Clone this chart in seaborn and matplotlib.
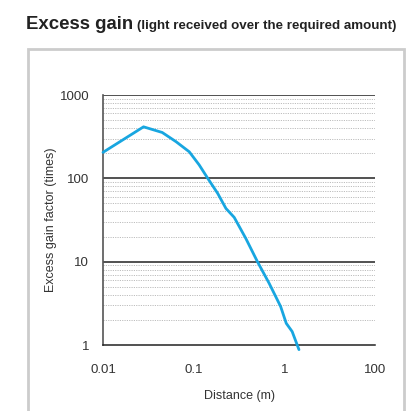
import matplotlib
matplotlib.use("Agg")
import matplotlib.pyplot as plt
import seaborn as sns
import pandas as pd
from matplotlib.patches import Rectangle
from matplotlib.ticker import FixedLocator, NullFormatter

sns.set_style("white")
plt.rcParams['font.family'] = ['Liberation Sans', 'DejaVu Sans']

# Data
distance_m = [0.01, 0.028, 0.045, 0.064, 0.0895, 0.115, 0.143, 0.184, 0.227,
              0.28, 0.376, 0.505, 0.68, 0.91, 1.05, 1.22, 1.45]
excess_gain = [205, 415, 355, 275, 208, 145, 100, 66, 43.5,
               34, 19, 10, 5.5, 2.9, 1.82, 1.45, 0.88]
# the last tick sits one decade after "1" but is labelled "100" in the original
x_tick_values = [0.01, 0.1, 1, 10]
x_tick_labels = ["0.01", "0.1", "1", "100"]
y_tick_values = [1, 10, 100, 1000]
y_tick_labels = ["1", "10", "100", "1000"]

df = pd.DataFrame({"Distance (m)": distance_m, "gain": excess_gain})

W, H = 408, 411
fig = plt.figure(figsize=(W / 100, H / 100), dpi=100)
ax = fig.add_axes([103 / W, 1 - 345 / H, (375 - 103) / W, (345 - 95) / H])

# outer grey frame
fig.patches.append(Rectangle((28 / W, -0.05), (404 - 28) / W, 1 - 49 / H + 0.05,
                             transform=fig.transFigure, fill=False,
                             edgecolor="#cccccc", linewidth=2.0))

ax.set_xscale("log")
ax.set_yscale("log")
ax.set_xlim(0.01, 10)
ax.set_ylim(1, 1000)

# minor dotted gridlines
minor_vals = [m * 10 ** e for e in range(0, 3) for m in range(2, 10)]
for v in minor_vals:
    ax.axhline(v, color="#bdbdbd", linestyle=(0, (1.2, 1.2)), linewidth=0.7, zorder=1)
for v in [10, 100, 1000]:
    ax.axhline(v, color="#222222", linewidth=1.1, zorder=2)

sns.lineplot(data=df, x="Distance (m)", y="gain", ax=ax, color="#18a6e0",
             linewidth=2.0, zorder=3, clip_on=False)

ax.xaxis.set_major_locator(FixedLocator(x_tick_values))
ax.set_xticklabels(x_tick_labels)
ax.xaxis.set_minor_locator(FixedLocator([]))
ax.yaxis.set_major_locator(FixedLocator(y_tick_values))
ax.set_yticklabels(y_tick_labels)
ax.yaxis.set_minor_locator(FixedLocator([]))
ax.yaxis.set_minor_formatter(NullFormatter())
ax.xaxis.set_minor_formatter(NullFormatter())

ax.tick_params(axis="both", which="major", direction="out", length=7, width=1.0,
               color="#333333", labelsize=9.5, labelcolor="#333333", pad=3)
ax.tick_params(axis="x", pad=7)

for s in ["top", "right"]:
    ax.spines[s].set_visible(False)
ax.spines["left"].set_color("#555555")
ax.spines["left"].set_linewidth(1.2)
ax.spines["bottom"].set_color("#222222")
ax.spines["bottom"].set_linewidth(1.1)

ax.set_xlabel("Distance (m)", fontsize=9, color="#333333", labelpad=10)
ax.set_ylabel("Excess gain factor (times)", fontsize=9, color="#333333", labelpad=1.5)

fig.text(26 / W, 1 - 29 / H, "Excess gain", fontsize=13.4, fontweight="bold",
         color="#222222", va="baseline", ha="left")
fig.text(137 / W, 1 - 29 / H, "(light received over the required amount)",
         fontsize=9.6, fontweight="bold", color="#222222", va="baseline", ha="left")

fig.savefig("out.png", dpi=100)
